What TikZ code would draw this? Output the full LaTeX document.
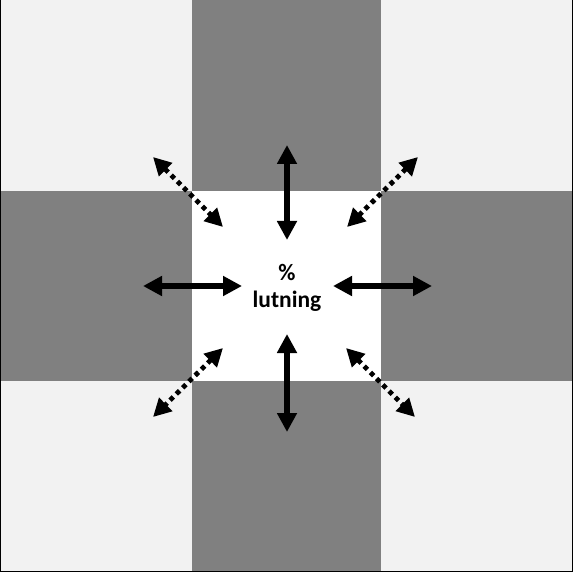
\documentclass[tikz,border=0pt]{standalone}
\usepackage{fontspec}
\setmainfont{Carlito}
\usetikzlibrary{arrows.meta}
\definecolor{darkg}{HTML}{808080}
\definecolor{lightg}{HTML}{F2F2F2}
\begin{document}
\begin{tikzpicture}[x=1pt,y=-1pt,
  solidarrow/.style={line width=5.5pt,{Triangle[length=19pt,width=19pt]}-{Triangle[length=19pt,width=19pt]}},
  dotarrow/.style={line width=4.8pt,dash pattern=on 4.6pt off 4.2pt,{Triangle[length=18pt,width=18pt]}-{Triangle[length=18pt,width=18pt]}},
  label/.style={font=\bfseries\fontsize{23.5}{27}\selectfont,align=center,inner sep=0pt}]
\useasboundingbox (0,0) rectangle (573,572);
% background cells
\fill[lightg] (0,0) rectangle (573,572);
\fill[darkg] (192,0) rectangle (381,572);
\fill[darkg] (0,191) rectangle (573,381);
\fill[white] (192,191) rectangle (381,381);
% frame
\draw[black,line width=1.4pt] (0.7,0) -- (0.7,571.3) -- (572.3,571.3) -- (572.3,0);
% text
\node[label] (txt) at (287,288) {\%\\lutning};
% arrow end points
\coordinate (t1) at (287,145); \coordinate (t2) at (287,240);
\coordinate (b1) at (287,334); \coordinate (b2) at (287,432);
\coordinate (l1) at (143,286); \coordinate (l2) at (242,286);
\coordinate (r1) at (333,286); \coordinate (r2) at (432,286);
\coordinate (tl1) at (153,157); \coordinate (tl2) at (223,227);
\coordinate (tr1) at (418,157); \coordinate (tr2) at (347,227);
\coordinate (bl1) at (223,348); \coordinate (bl2) at (153,417);
\coordinate (br1) at (346,348); \coordinate (br2) at (415,417);
\draw[solidarrow] (t1) -- (t2);
\draw[solidarrow] (b1) -- (b2);
\draw[solidarrow] (l1) -- (l2);
\draw[solidarrow] (r1) -- (r2);
\draw[dotarrow] (tl1) -- (tl2);
\draw[dotarrow] (tr1) -- (tr2);
\draw[dotarrow] (bl1) -- (bl2);
\draw[dotarrow] (br1) -- (br2);
\end{tikzpicture}
\end{document}
